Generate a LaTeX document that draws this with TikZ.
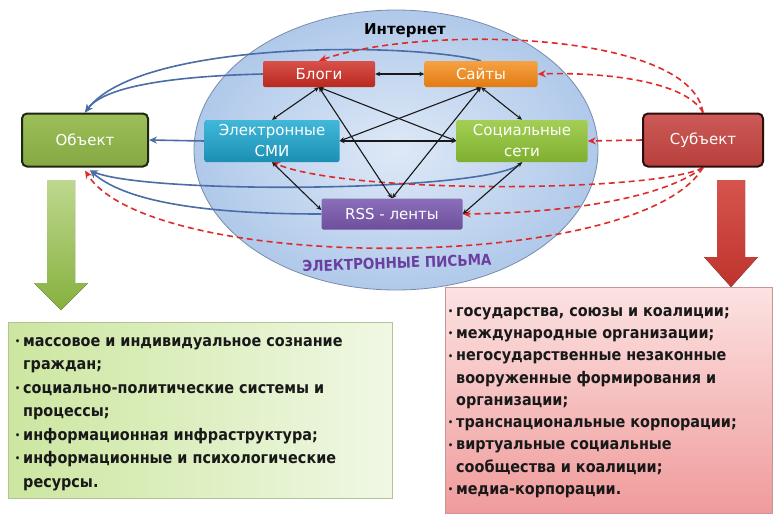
\documentclass[tikz,border=0pt]{standalone}
\usepackage{fontspec}
\setmainfont{DejaVu Sans}
\newfontfamily\condfont{DejaVu Sans Condensed}
\usetikzlibrary{arrows.meta,calc}
\pgfdeclarelayer{bg}
\pgfsetlayers{bg,main}
\definecolor{bluel}{HTML}{4A6DA7}
\definecolor{redd}{HTML}{E02A2A}
\definecolor{mailc}{HTML}{6B3FA0}
\newcommand\mybul{\makebox[8pt][l]{\raisebox{0.2ex}{\scalebox{0.55}{•}}}}
\newcommand\myind{\hspace*{8pt}}
\begin{document}
\begin{tikzpicture}[x=1pt,y=-1pt,
  inbox/.style={rectangle, rounded corners=2pt, text=white, font=\fontsize{15}{21}\selectfont, align=center, inner sep=0pt},
  sidebox/.style={rectangle, rounded corners=5pt, line width=2pt, text=white, font=\fontsize{15}{20}\selectfont, inner sep=0pt, minimum width=126pt, minimum height=53pt},
  blk/.style={draw=black!90, line width=1.1pt, {Stealth[length=5pt,width=4.5pt]}-{Stealth[length=5pt,width=4.5pt]}},
  blu/.style={draw=bluel, line width=1.6pt, -{Stealth[length=8pt,width=7pt]}},
  reddash/.style={draw=redd, line width=1.6pt, dash pattern=on 6pt off 4pt, -{Stealth[length=8pt,width=7pt]}},
  listbox/.style={rectangle, align=left, font=\condfont\bfseries, text=black!90, anchor=north west, inner ysep=0pt}
]
\useasboundingbox (0,0) rectangle (780,520);

% nodes
\node[inbox, minimum width=112pt, minimum height=26pt, top color={rgb,255:red,217;green,81;blue,74}, bottom color={rgb,255:red,184;green,40;blue,31}] (blogi) at (319,74) {Блоги};
\node[inbox, minimum width=113pt, minimum height=26pt, top color={rgb,255:red,245;green,162;blue,68}, bottom color={rgb,255:red,226;green,123;blue,18}] (sayty) at (481,74) {Сайты};
\node[inbox, minimum width=135pt, minimum height=42pt, top color={rgb,255:red,65;green,184;blue,217}, bottom color={rgb,255:red,27;green,143;blue,179}] (smi) at (272,141) {Электронные\\СМИ};
\node[inbox, minimum width=131pt, minimum height=42pt, top color={rgb,255:red,163;green,207;blue,85}, bottom color={rgb,255:red,127;green,175;blue,47}] (soc) at (522,141) {Социальные\\сети};
\node[inbox, minimum width=141pt, minimum height=31pt, top color={rgb,255:red,140;green,111;blue,185}, bottom color={rgb,255:red,108;green,78;blue,156}] (rss) at (392,214) {RSS - ленты};

\node[sidebox, draw={rgb,255:red,31;green,38;blue,18}, top color={rgb,255:red,157;green,191;blue,90}, bottom color={rgb,255:red,134;green,168;blue,67}] (obj) at (85,140) {Объект};
\node[sidebox, minimum width=120pt, draw={rgb,255:red,45;green,13;blue,13}, top color={rgb,255:red,204;green,90;blue,86}, bottom color={rgb,255:red,184;green,64;blue,61}] (subj) at (703,140) {Субъект};

\node[font=\bfseries\fontsize{15}{18}\selectfont] (inet) at (405,31) {Интернет};
\node[font=\condfont\bfseries\fontsize{15}{18}\selectfont, text=mailc, rotate=2] (mail) at (397,263) {ЭЛЕКТРОННЫЕ ПИСЬМА};

\begin{pgfonlayer}{bg}
  \fill[white] (0,0) rectangle (780,520);
  \draw[draw={rgb,255:red,120;green,140;blue,170}, line width=0.8pt, inner color={rgb,255:red,222;green,233;blue,247}, outer color={rgb,255:red,176;green,201;blue,234}] (396,150) ellipse [x radius=202, y radius=140];
  % blue connectors to Объект
  \draw[blu] (sayty.north) .. controls (410,42) and (140,40) .. (obj.north);
  \draw[blu] (blogi.west) .. controls (180,76) and (105,85) .. (obj.north);
  \draw[blu] (smi.west) -- (obj.east);
  \draw[blu] (soc.south) .. controls (500,192) and (150,195) .. ($(obj.south)+(5,3)$);
  \draw[blu] (rss.west) .. controls (220,214) and (130,205) .. ($(obj.south)+(5,3)$);
  % red dashed from Субъект
  \draw[reddash] (subj.north) .. controls (690,30) and (420,25) .. (blogi.north);
  \draw[reddash] (subj.north) .. controls (685,80) and (600,72) .. (sayty.east);
  \draw[reddash] (subj.west) -- (soc.east);
  \draw[reddash] (subj.south) .. controls (660,192) and (350,195) .. (smi.south);
  \draw[reddash] (subj.south) .. controls (660,200) and (560,213) .. (rss.east);
  \draw[reddash] (subj.south) .. controls (640,274) and (150,274) .. ($(obj.south)+(0,3)$);
  % black links
  \draw[blk] (blogi.east) -- (sayty.west);
  \draw[blk] (blogi.south) -- (smi.north);
  \draw[blk] (blogi.south) -- (soc.west);
  \draw[blk] (blogi.south) -- (rss.north);
  \draw[blk] (sayty.south) -- (smi.east);
  \draw[blk] (sayty.south) -- (rss.north);
  \draw[blk] (sayty.south) -- (soc.north);
  \draw[blk] (smi.east) -- (soc.west);
  \draw[blk] ($(rss.west)+(0,-4)$) -- (smi.south);
  \draw[blk] (soc.south) -- (rss.east);
\end{pgfonlayer}

% big arrows
\fill[top color={rgb,255:red,190;green,216;blue,142}, bottom color={rgb,255:red,134;green,176;blue,62}] (47,180) -- (75,180) -- (75,283) -- (88,283) -- (61,310) -- (34,283) -- (47,283) -- cycle;
\fill[top color={rgb,255:red,214;green,84;blue,78}, bottom color={rgb,255:red,190;green,52;blue,44}] (717,180) -- (745,180) -- (745,257) -- (758,257) -- (731,287) -- (704,257) -- (717,257) -- cycle;

% list boxes
\node[rectangle, draw={rgb,255:red,176;green,196;blue,150}, left color={rgb,255:red,204;green,230;blue,160}, right color={rgb,255:red,240;green,248;blue,228}, minimum width=384pt, minimum height=176pt, anchor=north west, inner sep=0pt] (lbox) at (8,322) {};
\node[rectangle, draw={rgb,255:red,200;green,150;blue,150}, top color={rgb,255:red,252;green,226;blue,226}, bottom color={rgb,255:red,240;green,155;blue,155}, minimum width=327pt, minimum height=226pt, anchor=north west, inner sep=0pt] (rbox) at (445,287) {};

\node[listbox, font=\condfont\bfseries\fontsize{16}{23.5}\selectfont, inner xsep=0pt] (ltext) at (15,337) {%
\mybul массовое и индивидуальное сознание\\
\myind граждан;\\
\mybul социально-политические системы и\\
\myind процессы;\\
\mybul информационная инфраструктура;\\
\mybul информационные и психологические\\
\myind ресурсы.};

\node[listbox, font=\condfont\bfseries\fontsize{16}{22.3}\selectfont, inner xsep=0pt] (rtext) at (448,307) {%
\mybul государства, союзы и коалиции;\\
\mybul международные организации;\\
\mybul негосударственные незаконные\\
\myind вооруженные формирования и\\
\myind организации;\\
\mybul транснациональные корпорации;\\
\mybul виртуальные социальные\\
\myind сообщества и коалиции;\\
\mybul медиа-корпорации.};
\end{tikzpicture}
\end{document}
